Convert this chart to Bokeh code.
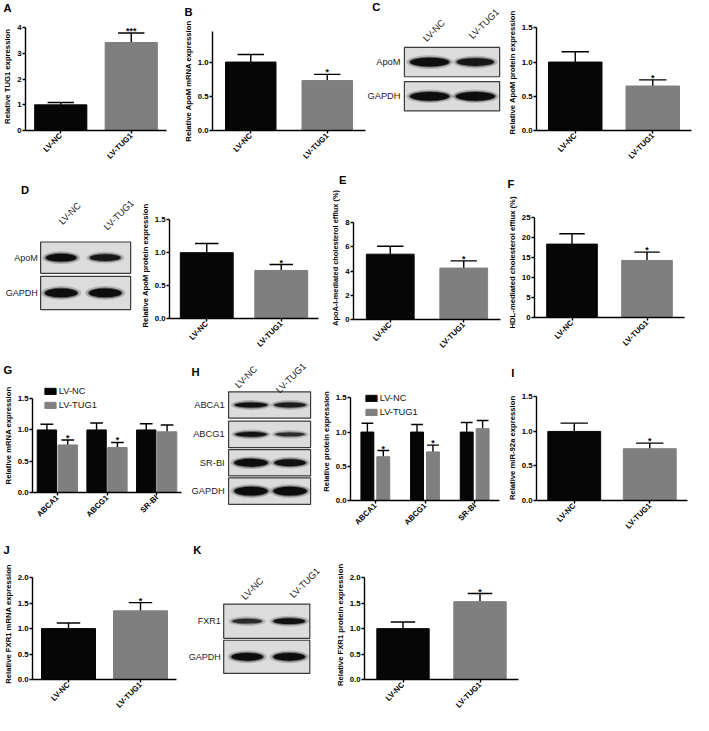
import math
from bokeh.plotting import figure
from bokeh.models import (ColumnDataSource, FactorRange, Range1d, FixedTicker,
                          Whisker, TeeHead, PrintfTickFormatter)
from bokeh.transform import dodge
from bokeh.layouts import row, column
from bokeh.core.properties import value
from bokeh.embed import file_html
from bokeh.resources import INLINE

FONT = "Liberation Sans"
BLACK = "#060606"
GRAY = "#7f7f7f"
S = 0.9775          # reference pixels -> page pixels (page must fit 693 x 715)


def X(v):
    return int(round(v * S))


def px(v):
    return "%.1fpx" % (v * S)

# ------------------------------------------------------------------ data
groups = ["LV-NC", "LV-TUG1"]
genes = ["ABCA1", "ABCG1", "SR-BI"]

a_mean = [1.00, 3.43]; a_err = [0.09, 0.37]; a_sig = ["", "***"]
b_mean = [1.00, 0.73]; b_err = [0.11, 0.09]; b_sig = ["", "*"]
c_mean = [1.00, 0.65]; c_err = [0.15, 0.09]; c_sig = ["", "*"]
d_mean = [1.00, 0.73]; d_err = [0.14, 0.09]; d_sig = ["", "*"]
e_mean = [5.40, 4.25]; e_err = [0.65, 0.60]; e_sig = ["", "*"]
f_mean = [18.4, 14.3]; f_err = [2.6, 2.1]; f_sig = ["", "*"]
g_nc = [1.00, 1.00, 1.00]; g_nc_err = [0.09, 0.11, 0.10]
g_tug = [0.76, 0.72, 0.97]; g_tug_err = [0.08, 0.08, 0.11]; g_sig = ["*", "*", ""]
h_nc = [1.00, 1.00, 1.00]; h_nc_err = [0.13, 0.11, 0.14]
h_tug = [0.64, 0.71, 1.05]; h_tug_err = [0.09, 0.10, 0.12]; h_sig = ["*", "*", ""]
i_mean = [1.00, 0.75]; i_err = [0.12, 0.08]; i_sig = ["", "*"]
j_mean = [1.00, 1.35]; j_err = [0.11, 0.16]; j_sig = ["", "*"]
k_mean = [1.00, 1.53]; k_err = [0.13, 0.16]; k_sig = ["", "*"]

ticks_a = [0, 1, 2, 3, 4]
ticks_15 = [0, 0.5, 1.0, 1.5]
ticks_e = [0, 2, 4, 6, 8]
ticks_f = [0, 5, 10, 15, 20, 25]
ticks_20 = [0, 0.5, 1.0, 1.5, 2.0]

# ------------------------------------------------------------------ helpers
def style(p, label_size):
    p.xgrid.visible = False
    p.ygrid.visible = False
    p.outline_line_color = None
    for ax in (p.xaxis[0], p.yaxis[0]):
        ax.axis_line_width = 1.4
        ax.axis_line_color = "black"
        ax.major_tick_line_width = 1.4
        ax.major_tick_line_color = "black"
        ax.major_tick_out = 3
        ax.major_tick_in = 0
        ax.minor_tick_out = 0
        ax.minor_tick_in = 0
        ax.major_label_text_font = FONT
        ax.major_label_text_font_style = "bold"
        ax.major_label_text_font_size = px(8)
        ax.major_label_text_color = "black"
        ax.major_label_standoff = 1
    p.xaxis.major_label_orientation = math.pi / 4
    ya = p.yaxis[0]
    ya.axis_label_text_font = FONT
    ya.axis_label_text_font_style = "bold"
    ya.axis_label_text_font_size = px(label_size)
    ya.axis_label_text_color = "black"
    ya.axis_label_standoff = 2


def canvas(fx0, fx1, ry0, ry1):
    p = figure(width=X(fx1) - X(fx0), height=X(ry1) - X(ry0),
               x_range=Range1d(fx0, fx1), y_range=Range1d(ry1, ry0),
               x_axis_location=None, y_axis_location=None,
               toolbar_location=None, output_backend="svg", min_border=0,
               frame_align=False)
    p.grid.visible = False
    p.outline_line_color = None
    return p


def letter_text(p, letter, xy):
    p.text(x=[xy[0]], y=[xy[1]], text=[letter], text_align="left",
           text_baseline="top", text_font=value(FONT), text_font_style="bold",
           text_font_size=px(11.5), text_color="black")


def strip(fx0, fx1, ry0, ry1, letter, xy):
    p = canvas(fx0, fx1, ry0, ry1)
    letter_text(p, letter, xy)
    return p


def chart(fx0, fx1, ry0, ry1, ax, ar, yz, yt, ftop, ticks, factors, ylabel,
          label_size=7.9):
    topv = ticks[-1]
    W = X(fx1) - X(fx0)
    H = X(ry1) - X(ry0)
    mbl, mbr = X(ax) - X(fx0), X(fx1) - X(ar)
    mbt, mbb = X(ftop) - X(ry0), X(ry1) - X(yz)
    ppu = (yz - yt) * S / topv
    ymax = (H - mbt - mbb) / ppu
    p = figure(width=W, height=H,
               x_range=FactorRange(*factors, range_padding=0),
               y_range=Range1d(0, ymax),
               min_border_left=mbl, min_border_right=mbr,
               min_border_top=mbt, min_border_bottom=mbb,
               toolbar_location=None, output_backend="svg",
               frame_align=False)
    style(p, label_size)
    p.yaxis.ticker = FixedTicker(ticks=ticks)
    p.yaxis.bounds = (0, topv)
    fmt = "%d" if all(float(t).is_integer() for t in ticks) else "%.1f"
    p.yaxis.formatter = PrintfTickFormatter(format=fmt)
    p.yaxis.axis_label = ylabel
    return p


def whisker(p, src, base, cap):
    p.add_layout(Whisker(base=base, lower="top", upper="upper", source=src,
                         dimension="height", line_color="black", line_width=1.4,
                         upper_head=TeeHead(size=cap * S, line_color="black",
                                            line_width=1.4),
                         lower_head=None))


def star(p, src, x):
    p.text(x=x, y="upper", text="sig", source=src, text_align="center",
           text_baseline="bottom", text_font=value(FONT),
           text_font_style="bold", text_font_size=px(9), y_offset=3,
           text_color="black")


def simple_bars(p, means, errs, sigs, bw, cap):
    src = ColumnDataSource(dict(x=groups, top=means,
                                upper=[m + e for m, e in zip(means, errs)],
                                sig=sigs, color=[BLACK, GRAY]))
    p.vbar(x="x", top="top", width=bw, color="color", source=src)
    whisker(p, src, "x", cap)
    star(p, src, "x")


def grouped_bars(p, nc, nc_err, tug, tug_err, sig, off, bw, cap, leg_xy):
    s1 = ColumnDataSource(dict(x=genes, top=nc,
                               upper=[m + e for m, e in zip(nc, nc_err)],
                               sig=[""] * len(genes)))
    s2 = ColumnDataSource(dict(x=genes, top=tug,
                               upper=[m + e for m, e in zip(tug, tug_err)],
                               sig=sig))
    x1 = dodge("x", -off, range=p.x_range)
    x2 = dodge("x", off, range=p.x_range)
    p.vbar(x=x1, top="top", width=bw, color=BLACK, source=s1,
           legend_label=groups[0])
    p.vbar(x=x2, top="top", width=bw, color=GRAY, source=s2,
           legend_label=groups[1])
    whisker(p, s1, x1, cap)
    whisker(p, s2, x2, cap)
    star(p, s2, x2)
    lg = p.legend[0]
    lg.location = (leg_xy[0] * S, leg_xy[1] * S)
    lg.glyph_width = round(14 * S)
    lg.glyph_height = 8
    lg.label_height = round(12 * S)
    lg.label_width = 10
    lg.spacing = 2
    lg.padding = 0
    lg.margin = 0
    lg.label_standoff = 2
    lg.label_text_font = FONT
    lg.label_text_font_size = px(9.5)
    lg.label_text_color = "#111111"
    lg.border_line_color = None
    lg.background_fill_alpha = 0


def blot(fx0, fx1, ry0, ry1, letter, letter_xy, box_x, rows, row_names,
         lanes, lane_centers, label_right, label_size, bands):
    p = canvas(fx0, fx1, ry0, ry1)
    n = len(rows)
    p.quad(left=[box_x[0]] * n, right=[box_x[1]] * n,
           top=[r[0] for r in rows], bottom=[r[1] for r in rows],
           fill_color="#dcdcdc", line_color="#3a3a3a", line_width=1.2)
    bx, by, bw, bh, ba = [], [], [], [], []
    for r, row_bands in zip(rows, bands):
        for lx, (w, t, a) in zip(lanes, row_bands):
            bx.append(lx); by.append((r[0] + r[1]) / 2)
            bw.append(w); bh.append(t); ba.append(a)
    p.ellipse(x=bx, y=by, width=[w + 8 for w in bw], height=[h + 5 for h in bh],
              fill_color="#333333", fill_alpha=[a * 0.25 for a in ba],
              line_color=None)
    p.ellipse(x=bx, y=by, width=[w + 3 for w in bw], height=[h + 2 for h in bh],
              fill_color="#1a1a1a", fill_alpha=[a * 0.5 for a in ba],
              line_color=None)
    p.ellipse(x=bx, y=by, width=bw, height=bh, fill_color="#0d0d0d",
              fill_alpha=ba, line_color=None)
    p.text(x=[label_right] * n, y=[(r[0] + r[1]) / 2 for r in rows],
           text=row_names, text_align="right", text_baseline="middle",
           text_font=value(FONT), text_font_size=px(label_size),
           text_color="#222222")
    p.text(x=[c[0] for c in lane_centers], y=[c[1] for c in lane_centers],
           text=groups, angle=math.pi / 4, text_align="center",
           text_baseline="middle", text_font=value(FONT),
           text_font_size=px(9.5), text_color="#222222")
    letter_text(p, letter, letter_xy)
    return p


# ------------------------------------------------------------------ row 1  (y 0..176)
sA = strip(0, 184, 0, 18, "A", (3, 1))
pA = chart(0, 184, 18, 176, 22, 170, 133, 28, 22, ticks_a, groups,
           "Relative TUG1 expression")
simple_bars(pA, a_mean, a_err, a_sig, 0.74, 27)

sB = strip(184, 374, 0, 20, "B", (188, 5))
pB = chart(184, 374, 20, 176, 213, 373, 133, 28, 32, ticks_15, groups,
           "Relative ApoM mRNA expression")
simple_bars(pB, b_mean, b_err, b_sig, 0.66, 27)

bC = blot(374, 516, 0, 176, "C", (380, 1), (413, 511), [(48, 78), (83, 113)],
          ["ApoM", "GAPDH"], [439, 486], [(443.5, 31), (495, 24)], 409, 9.5,
          [[(40, 9, 1.0), (38, 8, 0.9)], [(40, 9, 1.0), (40, 9, 1.0)]])

pC = chart(516, 709, 0, 176, 547, 707, 133, 28, 14, ticks_15, groups,
           "Relative ApoM protein expression")
simple_bars(pC, c_mean, c_err, c_sig, 0.69, 28)

# ------------------------------------------------------------------ row 2  (y 176..368)
bD = blot(0, 140, 176, 368, "D", (21, 188), (41, 133), [(247, 279), (282, 316)],
          ["ApoM", "GAPDH"], [62, 107], [(71, 218), (121, 219.5)], 38, 9.2,
          [[(31, 8, 1.0), (31, 7, 0.9)], [(33, 9, 1.0), (33, 9, 1.0)]])

pD = chart(140, 329, 176, 368, 173, 325, 325, 224, 217, ticks_15, groups,
           "Relative ApoM protein expression")
simple_bars(pD, d_mean, d_err, d_sig, 0.71, 24)

sE = strip(329, 515, 176, 190, "E", (346, 177))
pE = chart(329, 515, 190, 368, 361, 511, 326, 227, 200, ticks_e, groups,
           "ApoA-I-mediated cholesterol efflux (%)", 7.6)
simple_bars(pE, e_mean, e_err, e_sig, 0.65, 27)

sF = strip(515, 709, 176, 200, "F", (519, 181))
pF = chart(515, 709, 200, 368, 546, 700, 324, 222, 212, ticks_f, groups,
           "HDL-mediated cholesterol efflux (%)")
simple_bars(pF, f_mean, f_err, f_sig, 0.675, 26)

# ------------------------------------------------------------------ row 3  (y 368..553)
sG = strip(0, 194, 368, 387, "G", (3, 372))
pG = chart(0, 194, 387, 553, 29, 185, 503, 407, 387, ticks_15, genes,
           "Relative mRNA expression")
grouped_bars(pG, g_nc, g_nc_err, g_tug, g_tug_err, g_sig, 0.21, 0.39, 13, (11, 83))

bH = blot(194, 320, 368, 553, "H", (195, 374), (233, 317),
          [(400, 427), (430, 457), (459, 486), (488, 515)],
          ["ABCA1", "ABCG1", "SR-BI", "GAPDH"], [256, 296],
          [(251, 385), (297, 386)], 229, 9.5,
          [[(33, 5, 0.95), (32, 5, 0.85)], [(32, 5, 0.95), (30, 4, 0.75)],
           [(34, 8, 1.0), (32, 7, 0.95)], [(34, 9, 1.0), (34, 9, 1.0)]])

pH = chart(320, 515, 368, 553, 358, 510, 512, 407, 391, ticks_15, genes,
           "Relative protein expression")
grouped_bars(pH, h_nc, h_nc_err, h_tug, h_tug_err, h_sig, 0.16, 0.26, 12, (14, 84))

sI = strip(515, 709, 368, 392, "I", (523, 375))
pI = chart(515, 709, 392, 553, 548, 703, 512, 406, 404, ticks_15, groups,
           "Relative miR-92a expression")
simple_bars(pI, i_mean, i_err, i_sig, 0.70, 28)

# ------------------------------------------------------------------ row 4  (y 553..731)
sJ = strip(0, 190, 553, 572, "J", (3, 556))
pJ = chart(0, 190, 572, 731, 29, 180, 697, 591, 581, ticks_20, groups,
           "Relative FXR1 mRNA expression")
simple_bars(pJ, j_mean, j_err, j_sig, 0.75, 24)

bK = blot(190, 330, 553, 731, "K", (197, 556), (228, 316), [(617, 652), (654, 688)],
          ["FXR1", "GAPDH"], [252, 295], [(257.5, 601.5), (311, 595.5)], 225,
          9.2, [[(30, 5, 0.75), (32, 6, 0.95)], [(32, 8, 1.0), (32, 8, 1.0)]])

pK = chart(330, 709, 553, 731, 372, 530, 697, 591, 583, ticks_20, groups,
           "Relative FXR1 protein expression")
simple_bars(pK, k_mean, k_err, k_sig, 0.68, 25)

layout = column(
    row(column(sA, pA), column(sB, pB), bC, pC),
    row(bD, pD, column(sE, pE), column(sF, pF)),
    row(column(sG, pG), bH, pH, column(sI, pI)),
    row(column(sJ, pJ), bK, pK),
)

open("out.html", "w").write(file_html(layout, INLINE))
